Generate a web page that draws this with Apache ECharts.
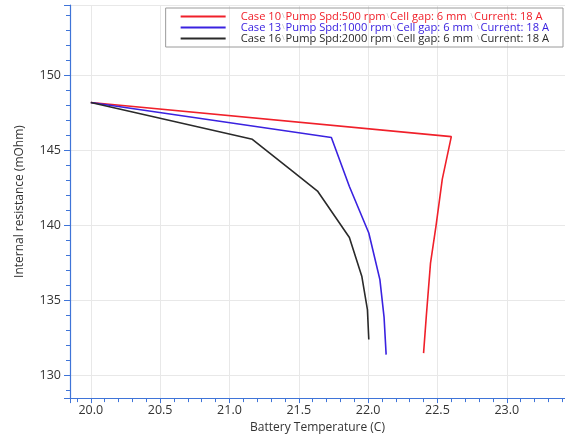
<!DOCTYPE html>
<html>
<head>
<meta charset="utf-8">
<script src="https://cdn.jsdelivr.net/npm/echarts@6/dist/echarts.min.js"></script>
<style>html,body{margin:0;padding:0;background:#fff}#c{width:565px;height:439px}</style>
</head>
<body>
<div id="c"></div>
<script>
var SEP = '|';
var seriesNames = [
  'Case 10|Pump Spd:500 rpm|Cell gap: 6 mm |Current: 18 A',
  'Case 13|Pump Spd:1000 rpm|Cell gap: 6 mm |Current: 18 A',
  'Case 16|Pump Spd:2000 rpm|Cell gap: 6 mm |Current: 18 A'
];
var colors = ['#f0202a', '#3a22e0', '#2a2a2a'];

var temp10 = [20.0, 22.6, 22.535, 22.49, 22.45, 22.42, 22.40];
var ir10   = [148.2, 145.93, 143.1, 140.0, 137.5, 134.0, 131.5];

var temp13 = [20.0, 21.735, 21.865, 22.005, 22.085, 22.115, 22.13];
var ir13   = [148.2, 145.87, 142.6, 139.5, 136.4, 133.9, 131.4];

var temp16 = [20.0, 21.165, 21.445, 21.635, 21.865, 21.955, 21.995, 22.005];
var ir16   = [148.2, 145.75, 143.7, 142.3, 139.2, 136.6, 134.4, 132.4];

function pairs(xs, ys) { return xs.map(function (x, i) { return [x, ys[i]]; }); }

var axisBlue = '#3f74d8';
var font = '"Open Sans", "Noto Sans", sans-serif';
var chart = echarts.init(document.getElementById('c'), null, {renderer: 'canvas'});
chart.setOption({
  animation: false,
  backgroundColor: '#fff',
  color: colors,
  textStyle: {fontFamily: font},
  grid: {left: 70, top: 5, right: 0, bottom: 40, containLabel: false},
  legend: {
    orient: 'vertical',
    right: 2, top: 8,
    padding: [3, 14, 3, 15],
    itemGap: 0,
    itemWidth: 45, itemHeight: 2,
    icon: 'rect',
    borderColor: '#9a9a9a', borderWidth: 1,
    data: seriesNames.map(function (n, i) {
      return {name: n, textStyle: {color: colors[i]}};
    }),
    formatter: function (name) {
      return name.split(SEP).join('{s|\\}');
    },
    textStyle: {
      fontSize: 11.15, lineHeight: 11, padding: [0, 0, 0, 10], fontFamily: font,
      rich: {s: {fontSize: 7, color: '#b8b8b8', padding: [0, 1, 2, 1], lineHeight: 11}}
    }
  },
  xAxis: {
    type: 'value',
    min: 19.85, max: 23.42,
    splitNumber: 7,
    name: 'Battery Temperature (C)',
    nameLocation: 'middle', nameGap: 20,
    nameTextStyle: {color: '#333', fontSize: 12, fontFamily: font},
    axisLine: {lineStyle: {color: axisBlue, width: 1.2}},
    axisTick: {show: true, length: 5, lineStyle: {color: axisBlue}},
    minorTick: {show: true, splitNumber: 5, length: 4, lineStyle: {color: axisBlue}},
    axisLabel: {color: '#333', fontSize: 12.5, margin: 6, showMinLabel: false, showMaxLabel: false,
      formatter: function (v) { return v.toFixed(1); }},
    splitLine: {show: true, lineStyle: {color: '#e8e8e8'}}
  },
  yAxis: {
    type: 'value',
    min: 128.5, max: 154.7,
    splitNumber: 5,
    name: 'Internal resistance (mOhm)',
    nameLocation: 'middle', nameGap: 44,
    nameTextStyle: {color: '#333', fontSize: 12, fontFamily: font},
    axisLine: {show: true, lineStyle: {color: axisBlue, width: 1.2}},
    axisTick: {show: true, length: 6, lineStyle: {color: axisBlue}},
    minorTick: {show: true, splitNumber: 5, length: 4, lineStyle: {color: axisBlue}},
    axisLabel: {color: '#333', fontSize: 12.5, margin: 9, showMinLabel: false, showMaxLabel: false},
    splitLine: {show: true, lineStyle: {color: '#e8e8e8'}}
  },
  series: [
    {name: seriesNames[0], type: 'line', data: pairs(temp10, ir10), showSymbol: false, symbol: 'none', lineStyle: {width: 1.6}},
    {name: seriesNames[1], type: 'line', data: pairs(temp13, ir13), showSymbol: false, symbol: 'none', lineStyle: {width: 1.6}},
    {name: seriesNames[2], type: 'line', data: pairs(temp16, ir16), showSymbol: false, symbol: 'none', lineStyle: {width: 1.6}}
  ]
});
</script>
</body>
</html>
